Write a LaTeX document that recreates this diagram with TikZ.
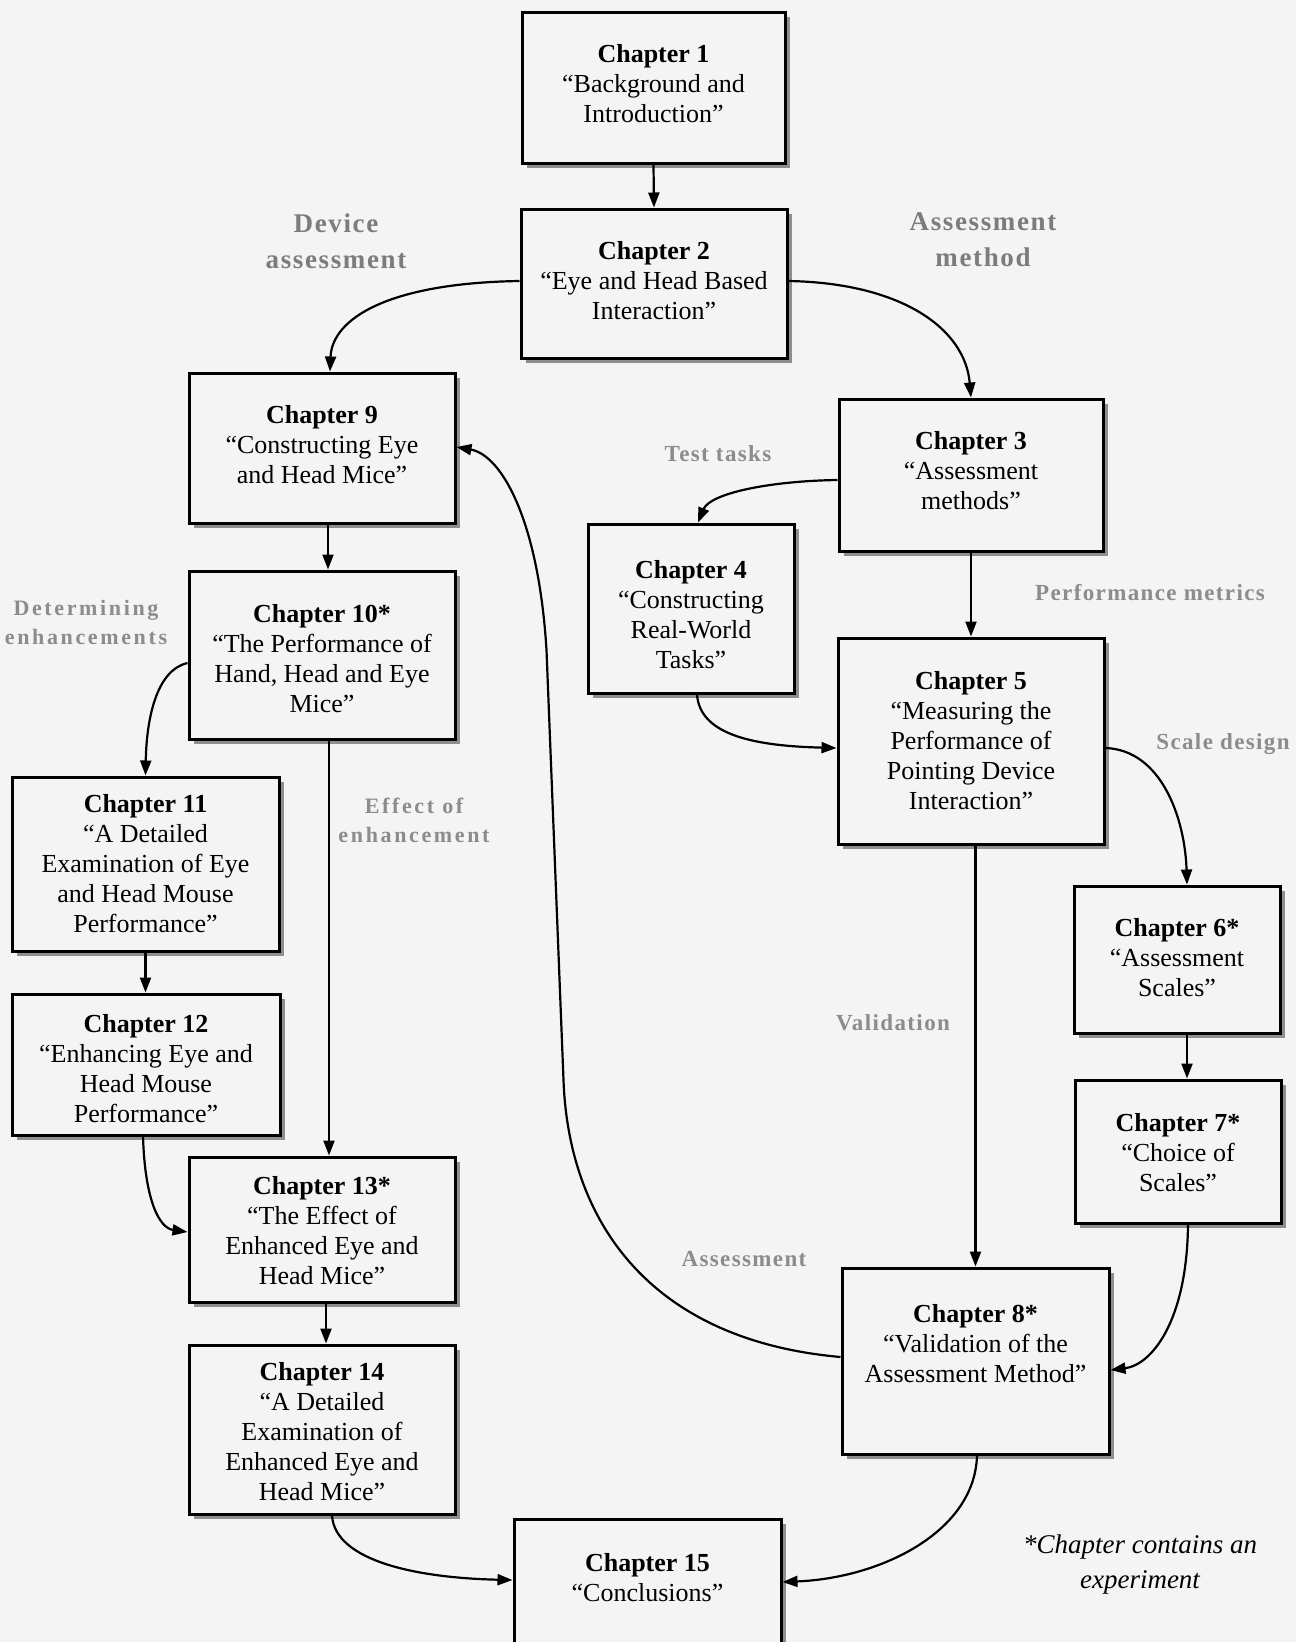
\documentclass[tikz,border=0pt]{standalone}
\usepackage{fontspec}
\setmainfont{Liberation Serif}
\newfontfamily\lblfont[LetterSpace=6]{Liberation Serif}
\newfontfamily\lblwidefont[LetterSpace=12]{Liberation Serif}
\usetikzlibrary{arrows.meta}

\definecolor{paper}{HTML}{F4F4F4}
\definecolor{lblgray}{HTML}{8C8C8C}
\definecolor{lbldark}{HTML}{7C7C7C}
\definecolor{shadowgray}{HTML}{8E8E8E}

\tikzset{
  chframe/.style={draw=black, line width=3pt, fill=paper, inner sep=0pt},
  chtext/.style={align=center, inner sep=0pt, font=\fontsize{26}{30}\selectfont},
  flow/.style={line width=2.2pt, -{Triangle[length=15pt,width=11pt]}},
  edgelbl/.style={align=center, inner sep=0pt, text=lblgray, font=\lblfont\bfseries\fontsize{23}{29}\selectfont},
  biglbl/.style={align=center, inner sep=0pt, text=lbldark, font=\lblfont\bfseries\fontsize{27}{36}\selectfont},
  widelbl/.style={align=center, inner sep=0pt, text=lblgray, font=\lblwidefont\bfseries\fontsize{22}{29}\selectfont},
  notetext/.style={align=center, inner sep=0pt, font=\itshape\fontsize{27}{35}\selectfont}
}

% chapter box: name, left, top, right, bottom (pixel grid, y grows downwards)
\newcommand\chapbox[5]{%
  \fill[shadowgray] (#2+5,#3+5) rectangle (#4+5,#5+5);
  \node[chframe, minimum width={#4-#2}, minimum height={#5-#3}] (#1) at ({(#2+#4)/2},{(#3+#5)/2}) {};
}

\begin{document}
\begin{tikzpicture}[x=1pt,y=-1pt]
\useasboundingbox (0,0) rectangle (1296,1642);
\clip (0,0) rectangle (1296,1642);
\fill[paper] (0,0) rectangle (1296,1642);

% ---------- boxes ----------
\chapbox{c1}{522}{12}{785}{163}
\chapbox{c2}{521}{209}{787}{358}
\chapbox{c9}{189}{373}{455}{523}
\chapbox{c3}{839}{399}{1103}{551}
\chapbox{c4}{588}{524}{794}{693}
\chapbox{c10}{189}{571}{455}{739}
\chapbox{c5}{838}{638}{1104}{844}
\chapbox{c11}{12}{777}{279}{951}
\chapbox{c6}{1074}{886}{1280}{1033}
\chapbox{c12}{12}{994}{280}{1135}
\chapbox{c7}{1075}{1080}{1281}{1223}
\chapbox{c13}{189}{1157}{455}{1302}
\chapbox{c8}{842}{1268}{1109}{1454}
\chapbox{c14}{189}{1345}{455}{1514}
\chapbox{c15}{514}{1519}{781}{1662}

% ---------- box texts ----------
\node[chtext] (t1) at (653.5,84) {\textbf{Chapter 1}\\“Background and\\Introduction”};
\node[chtext] (t2) at (654,281) {\textbf{Chapter 2}\\“Eye and Head Based\\Interaction”};
\node[chtext] (t9) at (322,445) {\textbf{Chapter 9}\\“Constructing Eye\\and Head Mice”};
\node[chtext] (t3) at (971,471) {\textbf{Chapter 3}\\“Assessment\\methods”};
\node[chtext] (t4) at (691,615) {\textbf{Chapter 4}\\“Constructing\\Real-World\\Tasks”};
\node[chtext] (t10) at (322,659) {\textbf{Chapter 10*}\\“The Performance of\\Hand, Head and Eye\\Mice”};
\node[chtext] (t5) at (971,741) {\textbf{Chapter 5}\\“Measuring the\\Performance of\\Pointing Device\\Interaction”};
\node[chtext] (t11) at (145.5,864) {\textbf{Chapter 11}\\“A Detailed\\Examination of Eye\\and Head Mouse\\Performance”};
\node[chtext] (t6) at (1177,958) {\textbf{Chapter 6*}\\“Assessment\\Scales”};
\node[chtext] (t12) at (146,1069) {\textbf{Chapter 12}\\“Enhancing Eye and\\Head Mouse\\Performance”};
\node[chtext] (t7) at (1178,1153) {\textbf{Chapter 7*}\\“Choice of\\Scales”};
\node[chtext] (t13) at (322,1231) {\textbf{Chapter 13*}\\“The Effect of\\Enhanced Eye and\\Head Mice”};
\node[chtext] (t8) at (975.5,1344) {\textbf{Chapter 8*}\\“Validation of the\\Assessment Method”};
\node[chtext] (t14) at (322,1432) {\textbf{Chapter 14}\\“A Detailed\\Examination of\\Enhanced Eye and\\Head Mice”};
\node[chtext] (t15) at (647.5,1578) {\textbf{Chapter 15}\\“Conclusions”};

% ---------- connectors ----------
\draw[flow] (c1.south) -- (c2.north);
\draw[flow] ([yshift=2.5pt]c2.west) .. controls +(-131,2) and +(2,-53) .. ([xshift=8pt]c9.north);
\draw[flow] ([yshift=2.5pt]c2.east) .. controls +(113,2) and +(-6,-69) .. (c3.north);
\draw[flow] ([yshift=-5pt]c3.west) .. controls +(-69,1) and +(12,-29) .. ([xshift=7pt]c4.north);
\draw[flow] (c3.south) -- (c5.north);
\draw[flow] ([xshift=6pt]c4.south) .. controls +(3,42) and +(-78,-2) .. ([yshift=-7pt]c5.west);
\draw[flow] ([yshift=-7pt]c5.east) .. controls +(56,2) and +(-2,-66) .. ([xshift=10pt]c6.north);
\draw[flow] (c5.south -| c8.north) -- (c8.north);
\draw[flow] ([xshift=10pt]c6.south) -- ([xshift=9pt]c7.north);
\draw[flow] ([xshift=10pt]c7.south) .. controls +(-1,97) and +(41,-5) .. ([yshift=-9pt]c8.east);
\draw[flow] ([yshift=4pt]c8.west) .. controls +(-192,-17) and +(5,140) .. ++(-277,-277)
  -- ++(-17,-430) .. controls +(-8,-130) and +(45,8) .. ([yshift=1pt]c9.east);
\draw[flow] ([xshift=1.5pt]c8.south) .. controls +(-2,76) and +(99,-4) .. ([yshift=8.5pt]c15.east);
\draw[flow] ([xshift=6pt]c9.south) -- ([xshift=6pt]c10.north);
\draw[flow] ([yshift=-8pt]c10.west) .. controls +(-31,7) and +(1,-57) .. (c11.north);
\draw[flow] ([xshift=7pt]c10.south) -- ([xshift=7pt]c13.north);
\draw[flow] (c11.south) -- (c11.south |- c12.north);
\draw[flow] ([xshift=-3pt]c12.south) .. controls +(2,65) and +(-28,-4) .. ([yshift=-2.5pt]c13.west);
\draw[flow] ([xshift=4pt]c13.south) -- ([xshift=4pt]c14.north);
\draw[flow] ([xshift=10pt]c14.south) .. controls +(3,46) and +(-94,-2) .. ([yshift=10.5pt]c15.west);

% ---------- connector labels ----------
\node[biglbl] (ldev) at (336,241) {Device\\assessment};
\node[biglbl] (lam) at (983,240) {Assessment\\method};
\node[edgelbl] (ltt) at (718,454) {Test tasks};
\node[edgelbl] (lpm) at (1150,593) {Performance metrics};
\node[widelbl] (lde) at (86,622) {Determining\\enhancements};
\node[edgelbl] (lsd) at (1223,744) {Scale design};
\node[widelbl] (lee) at (414,820) {Effect of\\enhancement};
\node[edgelbl] (lval) at (893,1023) {Validation};
\node[edgelbl] (lass) at (744,1259) {Assessment};

% ---------- note ----------
\node[notetext] (note) at (1140,1564) {*Chapter contains an\\experiment};
\end{tikzpicture}
\end{document}
